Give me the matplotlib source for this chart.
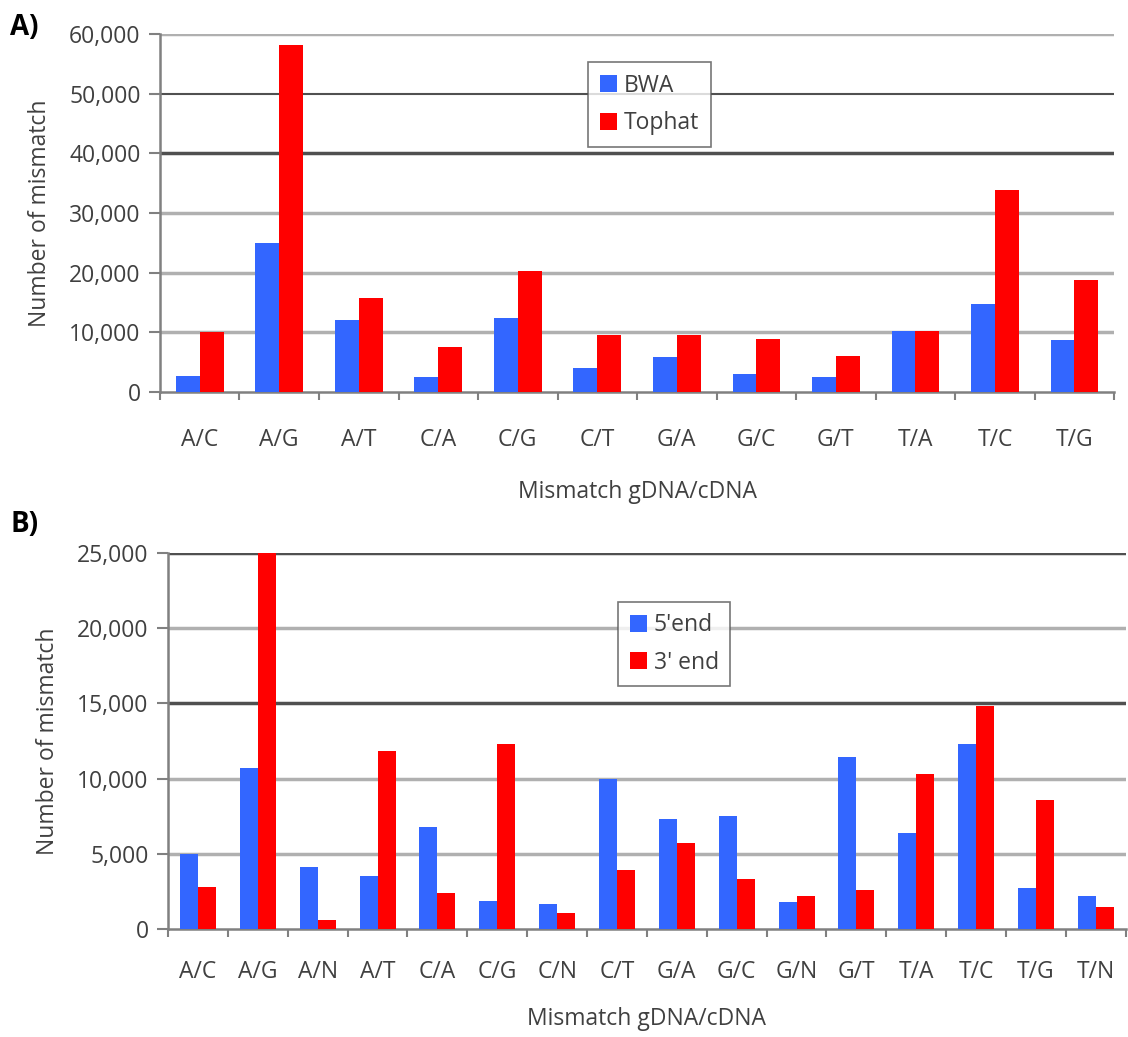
import numpy as np
import matplotlib.pyplot as plt
from matplotlib.ticker import FuncFormatter

# panel A data
cats_a = ['A/C', 'A/G', 'A/T', 'C/A', 'C/G', 'C/T', 'G/A', 'G/C', 'G/T', 'T/A', 'T/C', 'T/G']
bwa = [2700, 25000, 12000, 2500, 12400, 4000, 5800, 3000, 2500, 10300, 14800, 8800]
tophat = [10000, 58200, 15700, 7500, 20300, 9500, 9500, 8900, 6100, 10300, 33800, 18800]

# panel B data
cats_b = ['A/C', 'A/G', 'A/N', 'A/T', 'C/A', 'C/G', 'C/N', 'C/T',
          'G/A', 'G/C', 'G/N', 'G/T', 'T/A', 'T/C', 'T/G', 'T/N']
end5 = [5000, 10700, 4100, 3500, 6800, 1900, 1700, 10000,
        7300, 7500, 1800, 11400, 6400, 12300, 2700, 2200]
end3 = [2800, 25000, 600, 11800, 2400, 12300, 1100, 3900,
        5700, 3300, 2200, 2600, 10300, 14800, 8600, 1500]

BLUE = '#3366ff'
RED = '#ff0000'
TXT = '#404040'
FS = 16.5

plt.rcParams['font.family'] = ['Open Sans', 'DejaVu Sans']

fig = plt.figure(figsize=(11.28, 10.37), dpi=100)


def panel(rect, cats, s1, s2, names, ymax, step, grid_styles, bw, leg_pos, tpad, lpad):
    ax = fig.add_axes(rect)
    x = np.arange(len(cats))
    ax.bar(x - bw / 2, s1, bw, color=BLUE, label=names[0], zorder=3)
    ax.bar(x + bw / 2, s2, bw, color=RED, label=names[1], zorder=3)
    ax.set_xlim(-0.5, len(cats) - 0.5)
    ax.set_ylim(0, ymax)
    ax.set_yticks(np.arange(0, ymax + 1, step))
    ax.yaxis.set_major_formatter(FuncFormatter(lambda v, p: f'{int(v):,}'))
    ax.set_xticks(x)
    ax.set_xticklabels(cats)
    ax.set_xticks(np.arange(-0.5, len(cats)), minor=True)
    ax.tick_params(axis='x', which='major', length=0, pad=tpad, labelsize=FS, labelcolor=TXT)
    ax.tick_params(axis='x', which='minor', length=6, width=1.5, color='#808080')
    ax.tick_params(axis='y', length=8, width=1.5, color='#808080', labelsize=FS,
                   labelcolor=TXT, pad=6)
    for s in ['top', 'right']:
        ax.spines[s].set_visible(False)
    for s in ['left', 'bottom']:
        ax.spines[s].set_color('#808080')
        ax.spines[s].set_linewidth(1.8)
    # horizontal gridlines, alternating darkness like the original scan
    for v, (c, lw) in zip(np.arange(step, ymax + 1, step), grid_styles):
        ax.axhline(v, color=c, lw=lw, zorder=1)
    ax.set_ylabel('Number of mismatch', fontsize=FS, color=TXT, labelpad=12)
    ax.set_xlabel('Mismatch gDNA/cDNA', fontsize=FS, color=TXT, labelpad=lpad)
    leg = ax.legend(loc='upper left', bbox_to_anchor=leg_pos, fontsize=FS,
                    frameon=True, fancybox=False, edgecolor='#555555',
                    handlelength=0.75, handleheight=0.75, handletextpad=0.3,
                    labelspacing=0.6, borderpad=0.5, borderaxespad=0)
    leg.get_frame().set_linewidth(1.2)
    for t in leg.get_texts():
        t.set_color(TXT)
    return ax


gray = ('#b0b0b0', 2.5)
dark = ('#505050', 1.5)
darkthick = ('#505050', 2.5)

panel([0.1418, 0.622, 0.846, 0.345], cats_a, bwa, tophat, ['BWA', 'Tophat'],
      60000, 10000, [gray, gray, gray, darkthick, dark, gray], 0.3, (0.449, 0.922), 26, 20)
fig.text(0.009, 0.966, 'A)', fontsize=20, fontweight='bold', color='black')

panel([0.149, 0.104, 0.849, 0.363], cats_b, end5, end3, ["5'end", "3' end"],
      25000, 5000, [gray, gray, darkthick, gray, darkthick], 0.3, (0.47, 0.87), 22, 17)
fig.text(0.009, 0.487, 'B)', fontsize=20, fontweight='bold', color='black')

fig.savefig('out.png', dpi=100)
